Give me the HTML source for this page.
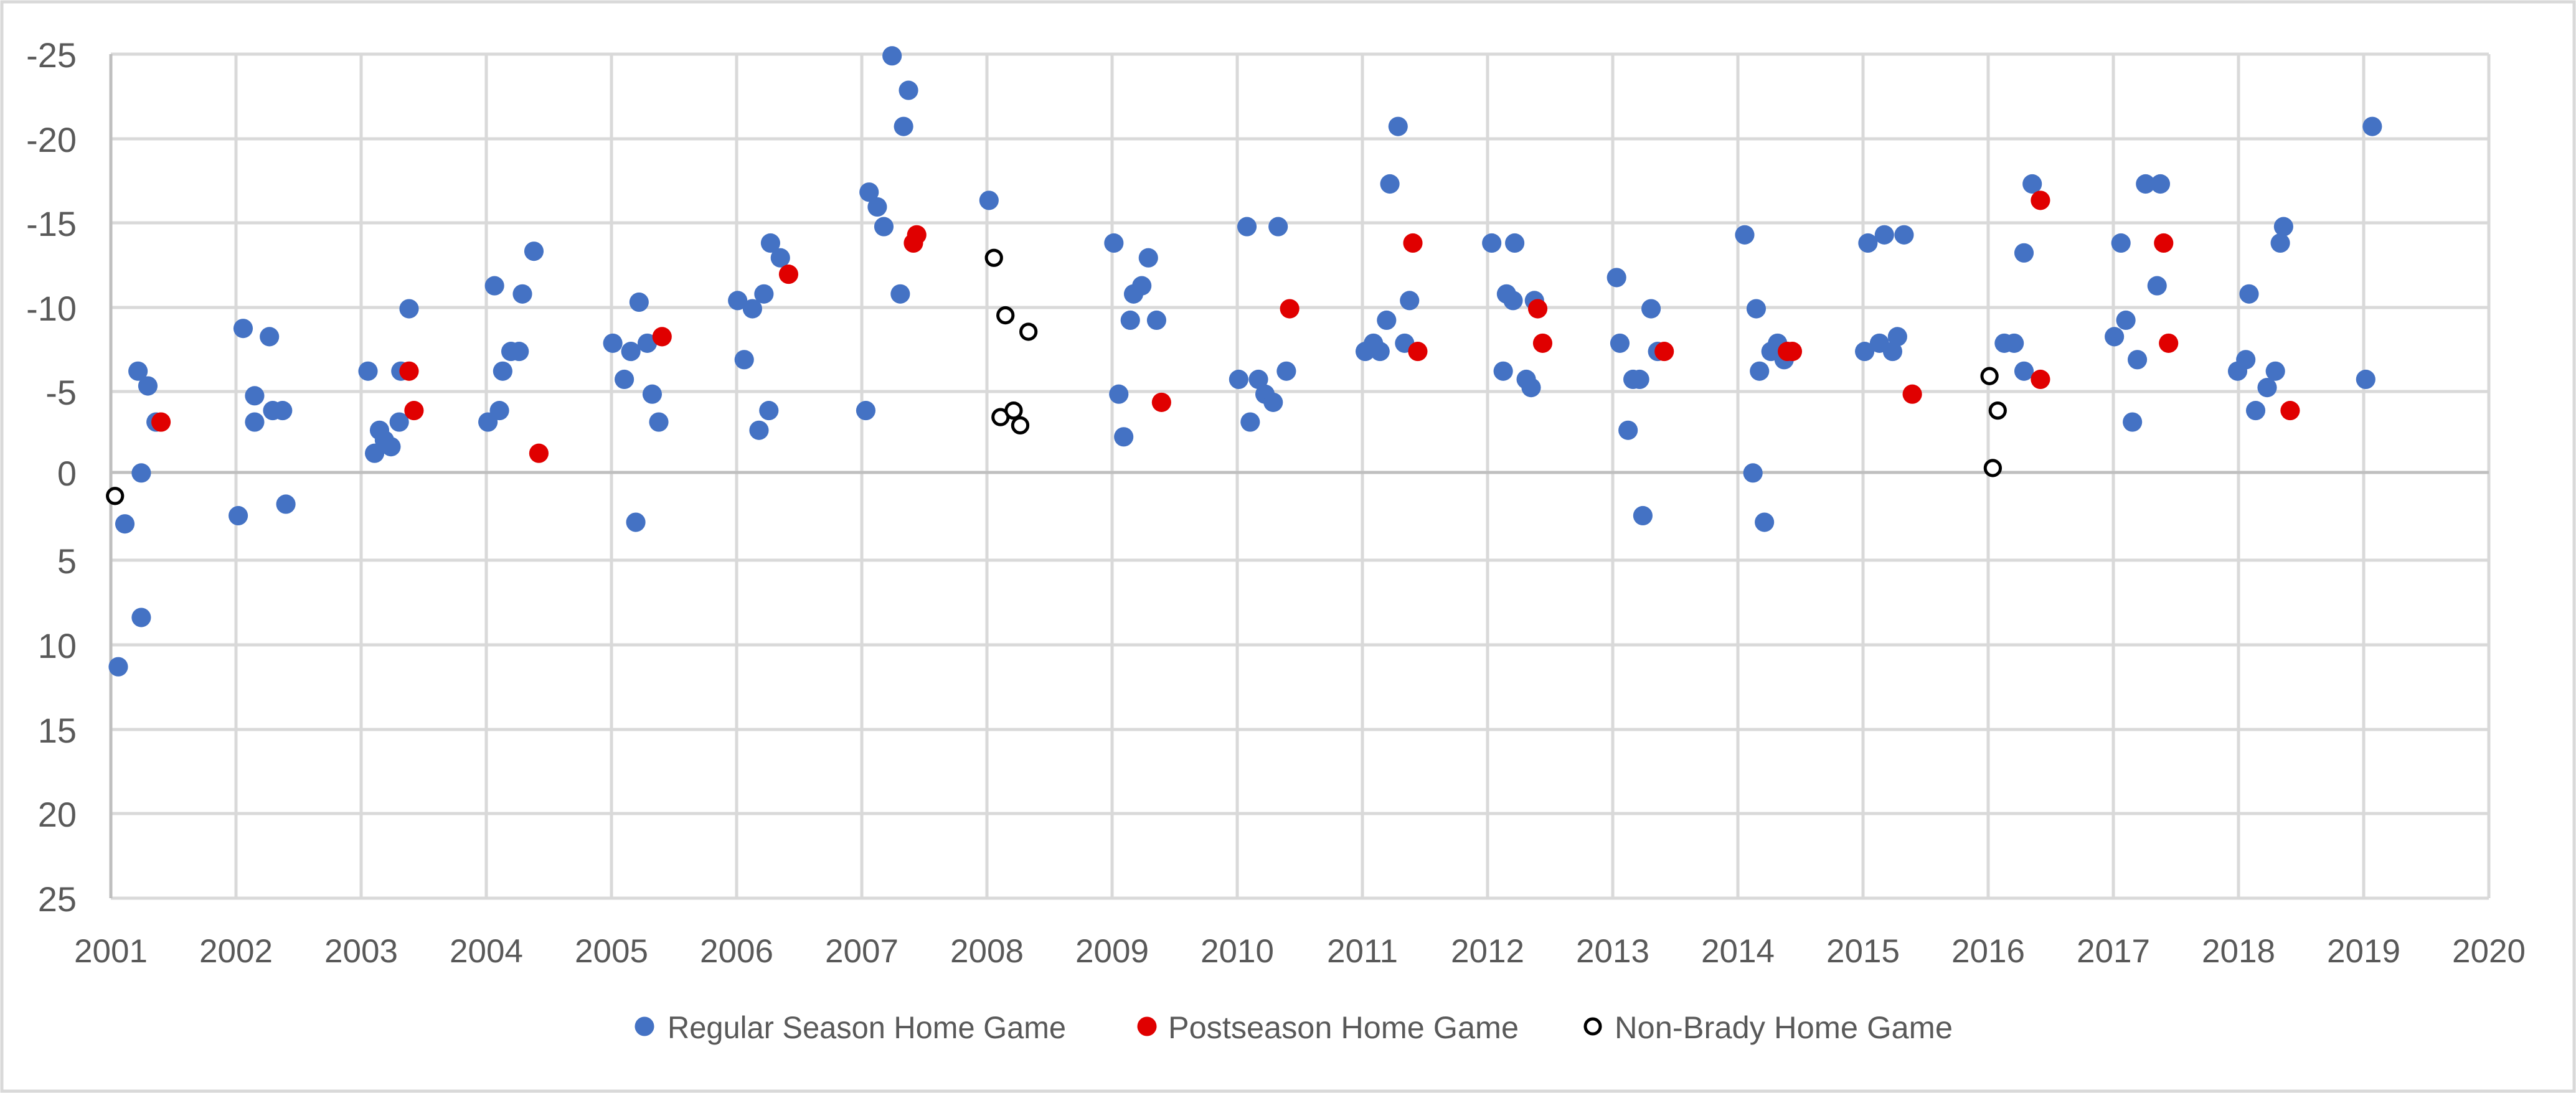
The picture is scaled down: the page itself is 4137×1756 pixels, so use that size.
<!DOCTYPE html>
<html><head><meta charset="utf-8"><style>
html,body{margin:0;padding:0;background:#fff;}
svg{display:block;}
text{font-family:"Liberation Sans",sans-serif;fill:#595959;}
</style></head><body>
<svg width="4137" height="1756" viewBox="0 0 4137 1756" xmlns="http://www.w3.org/2000/svg">
<rect x="3" y="3" width="4131" height="1750" fill="#fff" stroke="#d9d9d9" stroke-width="5"/>
<g stroke="#d9d9d9" stroke-width="5">
<line x1="178" y1="87" x2="3997" y2="87"/><line x1="178" y1="223" x2="3997" y2="223"/><line x1="178" y1="358" x2="3997" y2="358"/><line x1="178" y1="494" x2="3997" y2="494"/><line x1="178" y1="629" x2="3997" y2="629"/><line x1="178" y1="900" x2="3997" y2="900"/><line x1="178" y1="1036" x2="3997" y2="1036"/><line x1="178" y1="1172" x2="3997" y2="1172"/><line x1="178" y1="1307" x2="3997" y2="1307"/><line x1="178" y1="1443" x2="3997" y2="1443"/>
<line x1="379" y1="87" x2="379" y2="1443"/><line x1="580" y1="87" x2="580" y2="1443"/><line x1="781" y1="87" x2="781" y2="1443"/><line x1="982" y1="87" x2="982" y2="1443"/><line x1="1183" y1="87" x2="1183" y2="1443"/><line x1="1384" y1="87" x2="1384" y2="1443"/><line x1="1585" y1="87" x2="1585" y2="1443"/><line x1="1786" y1="87" x2="1786" y2="1443"/><line x1="1987" y1="87" x2="1987" y2="1443"/><line x1="2188" y1="87" x2="2188" y2="1443"/><line x1="2389" y1="87" x2="2389" y2="1443"/><line x1="2590" y1="87" x2="2590" y2="1443"/><line x1="2791" y1="87" x2="2791" y2="1443"/><line x1="2992" y1="87" x2="2992" y2="1443"/><line x1="3193" y1="87" x2="3193" y2="1443"/><line x1="3394" y1="87" x2="3394" y2="1443"/><line x1="3595" y1="87" x2="3595" y2="1443"/><line x1="3796" y1="87" x2="3796" y2="1443"/><line x1="3997" y1="87" x2="3997" y2="1443"/>
</g>
<g stroke="#bfbfbf" stroke-width="5">
<line x1="178" y1="87" x2="178" y2="1443"/>
<line x1="178" y1="759" x2="3997" y2="759"/>
</g>
<g font-size="56" text-anchor="end">
<text x="123" y="108">-25</text><text x="123" y="244">-20</text><text x="123" y="379">-15</text><text x="123" y="515">-10</text><text x="123" y="650">-5</text><text x="123" y="780">0</text><text x="123" y="921">5</text><text x="123" y="1057">10</text><text x="123" y="1193">15</text><text x="123" y="1328">20</text><text x="123" y="1464">25</text>
</g>
<g font-size="53" text-anchor="middle">
<text x="178" y="1546">2001</text><text x="379" y="1546">2002</text><text x="580" y="1546">2003</text><text x="781" y="1546">2004</text><text x="982" y="1546">2005</text><text x="1183" y="1546">2006</text><text x="1384" y="1546">2007</text><text x="1585" y="1546">2008</text><text x="1786" y="1546">2009</text><text x="1987" y="1546">2010</text><text x="2188" y="1546">2011</text><text x="2389" y="1546">2012</text><text x="2590" y="1546">2013</text><text x="2791" y="1546">2014</text><text x="2992" y="1546">2015</text><text x="3193" y="1546">2016</text><text x="3394" y="1546">2017</text><text x="3595" y="1546">2018</text><text x="3796" y="1546">2019</text><text x="3997" y="1546">2020</text>
</g>
<g transform="scale(2.6384)">
<g fill="#4472c4">
<circle cx="76" cy="319" r="5.9"/><circle cx="72" cy="406" r="5.9"/><circle cx="86" cy="376" r="5.9"/><circle cx="86" cy="288" r="5.9"/><circle cx="84" cy="226" r="5.9"/><circle cx="90" cy="235" r="5.9"/><circle cx="95" cy="257" r="5.9"/>
<circle cx="145" cy="314" r="5.9"/><circle cx="148" cy="200" r="5.9"/><circle cx="155" cy="241" r="5.9"/><circle cx="155" cy="257" r="5.9"/><circle cx="164" cy="205" r="5.9"/><circle cx="166" cy="250" r="5.9"/><circle cx="172" cy="250" r="5.9"/><circle cx="174" cy="307" r="5.9"/>
<circle cx="224" cy="226" r="5.9"/><circle cx="228" cy="276" r="5.9"/><circle cx="231" cy="262" r="5.9"/><circle cx="234" cy="268" r="5.9"/><circle cx="238" cy="272" r="5.9"/><circle cx="243" cy="257" r="5.9"/><circle cx="244" cy="226" r="5.9"/><circle cx="249" cy="188" r="5.9"/>
<circle cx="297" cy="257" r="5.9"/><circle cx="301" cy="174" r="5.9"/><circle cx="304" cy="250" r="5.9"/><circle cx="306" cy="226" r="5.9"/><circle cx="311" cy="214" r="5.9"/><circle cx="316" cy="214" r="5.9"/><circle cx="318" cy="179" r="5.9"/><circle cx="325" cy="153" r="5.9"/>
<circle cx="373" cy="209" r="5.9"/><circle cx="380" cy="231" r="5.9"/><circle cx="384" cy="214" r="5.9"/><circle cx="389" cy="184" r="5.9"/><circle cx="387" cy="318" r="5.9"/><circle cx="394" cy="209" r="5.9"/><circle cx="397" cy="240" r="5.9"/><circle cx="401" cy="257" r="5.9"/>
<circle cx="449" cy="183" r="5.9"/><circle cx="453" cy="219" r="5.9"/><circle cx="458" cy="188" r="5.9"/><circle cx="462" cy="262" r="5.9"/><circle cx="465" cy="179" r="5.9"/><circle cx="468" cy="250" r="5.9"/><circle cx="469" cy="148" r="5.9"/><circle cx="475" cy="157" r="5.9"/>
<circle cx="527" cy="250" r="5.9"/><circle cx="529" cy="117" r="5.9"/><circle cx="534" cy="126" r="5.9"/><circle cx="538" cy="138" r="5.9"/><circle cx="543" cy="34" r="5.9"/><circle cx="548" cy="179" r="5.9"/><circle cx="550" cy="77" r="5.9"/><circle cx="553" cy="55" r="5.9"/>
<circle cx="602" cy="122" r="5.9"/>
<circle cx="678" cy="148" r="5.9"/><circle cx="681" cy="240" r="5.9"/><circle cx="684" cy="266" r="5.9"/><circle cx="688" cy="195" r="5.9"/><circle cx="690" cy="179" r="5.9"/><circle cx="695" cy="174" r="5.9"/><circle cx="699" cy="157" r="5.9"/><circle cx="704" cy="195" r="5.9"/>
<circle cx="754" cy="231" r="5.9"/><circle cx="759" cy="138" r="5.9"/><circle cx="761" cy="257" r="5.9"/><circle cx="766" cy="231" r="5.9"/><circle cx="770" cy="240" r="5.9"/><circle cx="775" cy="245" r="5.9"/><circle cx="778" cy="138" r="5.9"/><circle cx="783" cy="226" r="5.9"/>
<circle cx="831" cy="214" r="5.9"/><circle cx="836" cy="209" r="5.9"/><circle cx="840" cy="214" r="5.9"/><circle cx="844" cy="195" r="5.9"/><circle cx="846" cy="112" r="5.9"/><circle cx="851" cy="77" r="5.9"/><circle cx="855" cy="209" r="5.9"/><circle cx="858" cy="183" r="5.9"/>
<circle cx="908" cy="148" r="5.9"/><circle cx="915" cy="226" r="5.9"/><circle cx="917" cy="179" r="5.9"/><circle cx="921" cy="183" r="5.9"/><circle cx="922" cy="148" r="5.9"/><circle cx="929" cy="231" r="5.9"/><circle cx="932" cy="236" r="5.9"/><circle cx="934" cy="183" r="5.9"/>
<circle cx="984" cy="169" r="5.9"/><circle cx="986" cy="209" r="5.9"/><circle cx="991" cy="262" r="5.9"/><circle cx="994" cy="231" r="5.9"/><circle cx="998" cy="231" r="5.9"/><circle cx="1000" cy="314" r="5.9"/><circle cx="1005" cy="188" r="5.9"/><circle cx="1009" cy="214" r="5.9"/>
<circle cx="1062" cy="143" r="5.9"/><circle cx="1067" cy="288" r="5.9"/><circle cx="1069" cy="188" r="5.9"/><circle cx="1071" cy="226" r="5.9"/><circle cx="1074" cy="318" r="5.9"/><circle cx="1078" cy="214" r="5.9"/><circle cx="1082" cy="209" r="5.9"/><circle cx="1086" cy="219" r="5.9"/>
<circle cx="1135" cy="214" r="5.9"/><circle cx="1137" cy="148" r="5.9"/><circle cx="1144" cy="209" r="5.9"/><circle cx="1147" cy="143" r="5.9"/><circle cx="1152" cy="214" r="5.9"/><circle cx="1155" cy="205" r="5.9"/><circle cx="1159" cy="143" r="5.9"/>
<circle cx="1220" cy="209" r="5.9"/><circle cx="1226" cy="209" r="5.9"/><circle cx="1232" cy="154" r="5.9"/><circle cx="1232" cy="226" r="5.9"/><circle cx="1237" cy="112" r="5.9"/>
<circle cx="1287" cy="205" r="5.9"/><circle cx="1291" cy="148" r="5.9"/><circle cx="1294" cy="195" r="5.9"/><circle cx="1298" cy="257" r="5.9"/><circle cx="1301" cy="219" r="5.9"/><circle cx="1306" cy="112" r="5.9"/><circle cx="1313" cy="174" r="5.9"/><circle cx="1315" cy="112" r="5.9"/>
<circle cx="1362" cy="226" r="5.9"/><circle cx="1367" cy="219" r="5.9"/><circle cx="1369" cy="179" r="5.9"/><circle cx="1373" cy="250" r="5.9"/><circle cx="1380" cy="236" r="5.9"/><circle cx="1385" cy="226" r="5.9"/><circle cx="1388" cy="148" r="5.9"/><circle cx="1390" cy="138" r="5.9"/>
<circle cx="1440" cy="231" r="5.9"/><circle cx="1444" cy="77" r="5.9"/>
</g>
<g fill="#e00000">
<circle cx="98" cy="257" r="5.9"/><circle cx="249" cy="226" r="5.9"/><circle cx="252" cy="250" r="5.9"/><circle cx="328" cy="276" r="5.9"/><circle cx="403" cy="205" r="5.9"/><circle cx="480" cy="167" r="5.9"/><circle cx="556" cy="148" r="5.9"/><circle cx="558" cy="143" r="5.9"/><circle cx="707" cy="245" r="5.9"/><circle cx="785" cy="188" r="5.9"/><circle cx="860" cy="148" r="5.9"/><circle cx="863" cy="214" r="5.9"/><circle cx="936" cy="188" r="5.9"/><circle cx="939" cy="209" r="5.9"/><circle cx="1013" cy="214" r="5.9"/><circle cx="1088" cy="214" r="5.9"/><circle cx="1091" cy="214" r="5.9"/><circle cx="1164" cy="240" r="5.9"/><circle cx="1242" cy="231" r="5.9"/><circle cx="1242" cy="122" r="5.9"/><circle cx="1317" cy="148" r="5.9"/><circle cx="1320" cy="209" r="5.9"/><circle cx="1394" cy="250" r="5.9"/>
</g>
<g fill="#fff" stroke="#000" stroke-width="1.9">
<circle cx="70" cy="302" r="4.6"/><circle cx="605" cy="157" r="4.6"/><circle cx="612" cy="192" r="4.6"/><circle cx="609" cy="254" r="4.6"/><circle cx="617" cy="250" r="4.6"/><circle cx="621" cy="259" r="4.6"/><circle cx="626" cy="202" r="4.6"/><circle cx="1211" cy="229" r="4.6"/><circle cx="1216" cy="250" r="4.6"/><circle cx="1213" cy="285" r="4.6"/>
</g>
</g>
<circle cx="1035" cy="1649" r="15.5" fill="#4472c4"/>
<text x="1072" y="1668" font-size="50" textLength="640" lengthAdjust="spacingAndGlyphs">Regular Season Home Game</text>
<circle cx="1842" cy="1649" r="15.5" fill="#e00000"/>
<text x="1876" y="1668" font-size="50" textLength="563" lengthAdjust="spacingAndGlyphs">Postseason Home Game</text>
<circle cx="2558" cy="1649" r="12" fill="#fff" stroke="#000" stroke-width="5"/>
<text x="2593" y="1668" font-size="50" textLength="543" lengthAdjust="spacingAndGlyphs">Non-Brady Home Game</text>
</svg>
</body></html>
